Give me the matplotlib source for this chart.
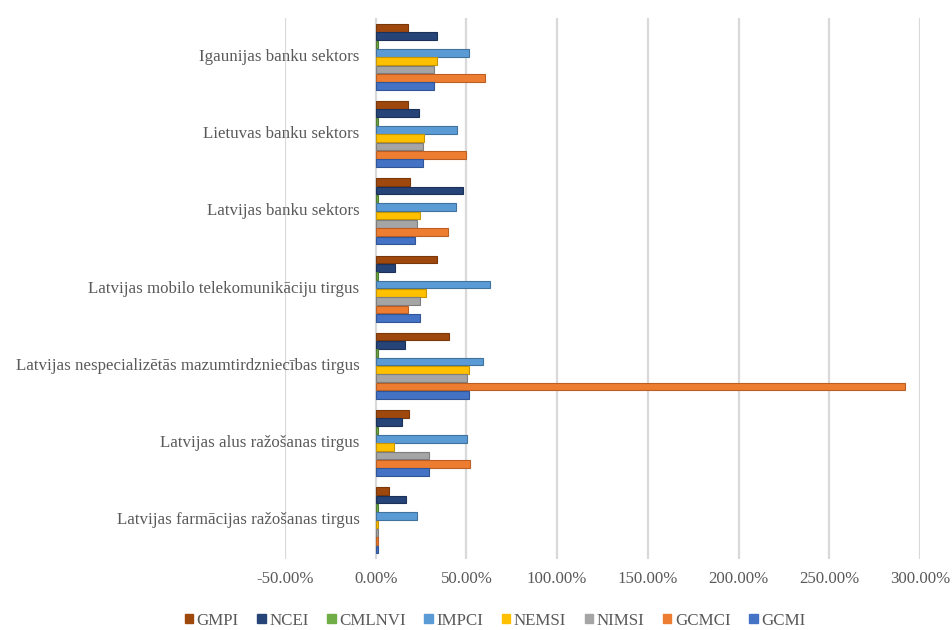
import matplotlib.pyplot as plt
import numpy as np
from matplotlib.patches import Patch

# ---- data (percent), categories listed top -> bottom ----
categories = [
    "Igaunijas banku sektors",
    "Lietuvas banku sektors",
    "Latvijas banku sektors",
    "Latvijas mobilo telekomunikāciju tirgus",
    "Latvijas nespecializētās mazumtirdzniecības tirgus",
    "Latvijas alus ražošanas tirgus",
    "Latvijas farmācijas ražošanas tirgus",
]

GMPI   = [18.0, 18.0, 19.0, 34.0, 40.5, 18.5, 7.5]
NCEI   = [33.5, 24.0, 48.0, 10.5, 16.0, 14.5, 16.5]
CMLNVI = [1.0, 1.0, 1.0, 1.0, 1.0, 1.0, 1.0]
IMPCI  = [51.5, 45.0, 44.5, 63.0, 59.0, 50.5, 23.0]
NEMSI  = [33.5, 26.5, 24.5, 27.5, 51.5, 10.0, 1.5]
NIMSI  = [32.0, 26.0, 23.0, 24.5, 50.5, 29.5, 1.5]
GCMCI  = [60.0, 49.5, 40.0, 18.0, 292.0, 52.0, 1.0]
GCMI   = [32.0, 26.0, 21.5, 24.5, 51.5, 29.5, 1.5]

# legend / drawing order: first = top bar in each group
series_names = ["GMPI", "NCEI", "CMLNVI", "IMPCI", "NEMSI", "NIMSI", "GCMCI", "GCMI"]
series_vals = [GMPI, NCEI, CMLNVI, IMPCI, NEMSI, NIMSI, GCMCI, GCMI]
colors = ["#9E480E", "#264478", "#70AD47", "#5B9BD5",
          "#FFC000", "#A5A5A5", "#ED7D31", "#4472C4"]
edges = ["#7A370A", "#1B3157", "#4F7A32", "#41729E",
         "#C79500", "#7E7E7E", "#B95F24", "#315596"]

plt.rcParams['font.family'] = ['Liberation Serif', 'DejaVu Serif']
text_color = "#595959"
fs = 12.2

fig = plt.figure(figsize=(9.52, 6.3), dpi=100)
ax = fig.add_axes([0.2994, 0.113, 0.667, 0.858])

n = len(series_names)
h = 0.108
ypos = np.arange(len(categories))[::-1]  # top category highest
for i, (name, vals) in enumerate(zip(series_names, series_vals)):
    off = (n - 1) / 2 * h - i * h
    ax.barh(ypos + off, vals, height=h * 0.92, color=colors[i],
            edgecolor=edges[i], linewidth=0.8, label=name, zorder=3)

ax.set_xlim(-50, 300)
ax.set_ylim(-0.5, len(categories) - 0.5)
xt = np.arange(-50, 301, 50)
ax.set_xticks(xt)
ax.set_xticklabels([f"{v:.2f}%" for v in xt], color=text_color, fontsize=fs)
ax.tick_params(axis='x', length=0, pad=9)
ax.set_yticks([])
ax.grid(axis='x', color="#D9D9D9", linewidth=1.6, zorder=0)
for s in ax.spines.values():
    s.set_visible(False)

for y, lab in zip(ypos, categories):
    ax.text(-9, y, lab, ha='right', va='center', fontsize=fs, color=text_color)

handles = [Patch(facecolor=c, edgecolor=c) for c in colors]
fig.legend(handles, series_names, loc='lower center', ncol=8, frameon=False,
           bbox_to_anchor=(0.52, -0.022), fontsize=fs, labelcolor=text_color,
           handlelength=0.5, handleheight=0.5, handletextpad=0.2, columnspacing=1.1)

fig.savefig("out.png", dpi=100)
